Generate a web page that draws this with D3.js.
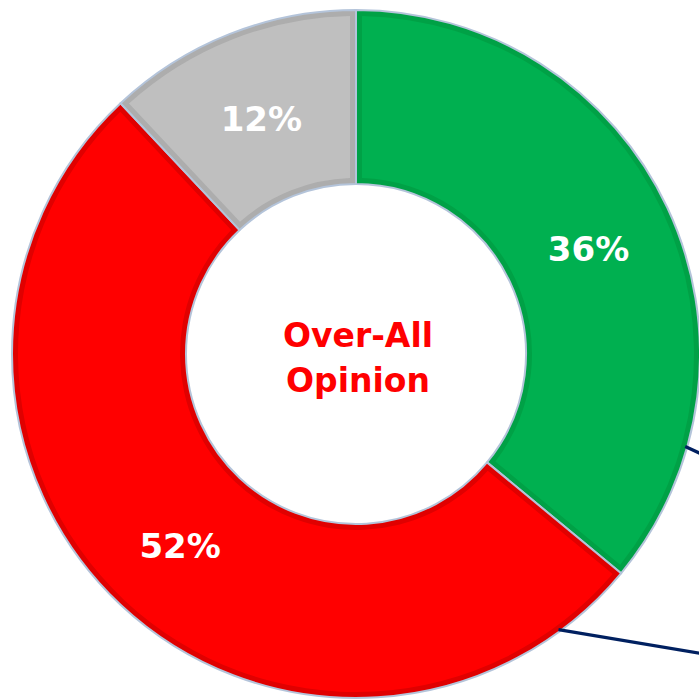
<!DOCTYPE html>
<html>
<head>
<meta charset="utf-8">
<script src="https://cdn.jsdelivr.net/npm/d3@7"></script>
<style>
  html, body { margin: 0; padding: 0; background: #fff; overflow: hidden; }
  svg { display: block; }
</style>
</head>
<body>
<div id="chart"></div>
<script>
'use strict';

// chart data
var categories = ['Positive', 'Negative', 'Neutral'];
var values = [36, 52, 12];
var labels = ['36%', '52%', '12%'];
var fills = ['#00b050', '#ff0000', '#bfbfbf'];
var bands = ['#00a146', '#e00000', '#adadad'];
var centerLines = ['Over-All', 'Opinion'];

// leader lines of labels lying outside the frame: angle on the ring (deg) and slope outward
var leaderAngles = [105.7, 143.7];
var leaderSlopes = [0.46, 0.168];

var width = 699, height = 700;
var cx = 356, cy = 354;
var outerR = 344, innerR = 170;
var band = 6;

var svg = d3.select('#chart').append('svg')
  .attr('width', width).attr('height', height);
var g = svg.append('g').attr('transform', 'translate(' + cx + ',' + cy + ')');

var pie = d3.pie().sort(null).value(function (d) { return d; });
var arcs = pie(values);

var arcOuter = d3.arc().innerRadius(innerR).outerRadius(outerR);
var arcInner = d3.arc().innerRadius(innerR + band).outerRadius(outerR - band)
  .padAngle(band * 2 / outerR).padRadius(outerR);

var slices = g.selectAll('.slice').data(arcs).enter().append('g').attr('class', 'slice');

slices.append('path')
  .attr('d', arcOuter)
  .attr('fill', function (d, i) { return bands[i]; })
  .attr('stroke', '#b4c4da')
  .attr('stroke-width', 2)
  .attr('stroke-linejoin', 'round');

slices.append('path')
  .attr('d', arcInner)
  .attr('fill', function (d, i) { return fills[i]; });

slices.append('text')
  .attr('transform', function (d) { return 'translate(' + arcOuter.centroid(d) + ')'; })
  .attr('text-anchor', 'middle')
  .attr('dy', '0.48em')
  .style('font', 'bold 34px "DejaVu Sans", sans-serif')
  .style('fill', '#fff')
  .text(function (d, i) { return labels[i]; });

// leader lines
leaderAngles.forEach(function (a, i) {
  var rad = a * Math.PI / 180;
  var x0 = cx + (outerR - 2) * Math.sin(rad);
  var y0 = cy - (outerR - 2) * Math.cos(rad);
  var x1 = width + 20;
  var y1 = y0 + (x1 - x0) * leaderSlopes[i];
  svg.append('line')
    .attr('x1', x0).attr('y1', y0).attr('x2', x1).attr('y2', y1)
    .attr('stroke', '#002060').attr('stroke-width', 3.2);
});

// center title
g.append('text')
  .attr('text-anchor', 'middle')
  .style('font', 'bold 33px "DejaVu Sans", sans-serif')
  .style('fill', '#ff0000')
  .selectAll('tspan').data(centerLines).enter().append('tspan')
  .attr('x', 2)
  .attr('y', function (d, i) { return -7 + i * 45; })
  .text(function (d) { return d; });
</script>
</body>
</html>
